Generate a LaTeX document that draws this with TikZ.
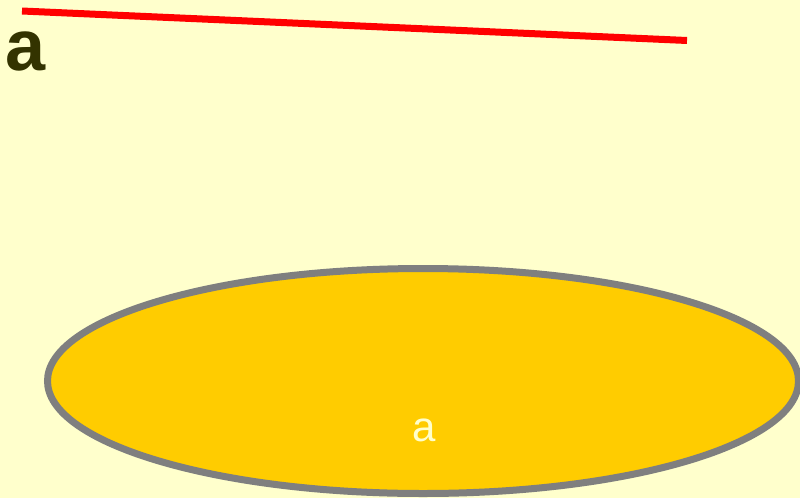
\documentclass[tikz,border=0pt]{standalone}
\usepackage{fontspec}
\setmainfont{Liberation Sans}
\usepackage{xcolor}
\usetikzlibrary{shapes.geometric,positioning}
\definecolor{paleyellow}{HTML}{FFFFCC}
\definecolor{goldfill}{HTML}{FFCC00}
\definecolor{rimgray}{HTML}{7F7F7F}
\definecolor{olivetext}{HTML}{333300}
\definecolor{lineRed}{HTML}{FF0000}

\begin{document}
\begin{tikzpicture}[x=1pt, y=-1pt,
    bigletter/.style={inner sep=0pt, text=olivetext,
      font=\fontsize{72}{80}\selectfont\bfseries},
    disc/.style={ellipse, draw=rimgray, line width=7pt, fill=goldfill,
      minimum width=751pt, minimum height=225pt, inner sep=0pt},
    disclabel/.style={inner sep=0pt, text=paleyellow,
      font=\fontsize{42}{48}\selectfont}]
  %% Background and bounding box
  \fill[paleyellow] (0,0) rectangle (800,498);
  \useasboundingbox (0,0) rectangle (800,498);

  %% Red line across the top
  \coordinate (lineStart) at (22,11);
  \coordinate (lineEnd) at (687,40.5);
  \draw[lineRed, line width=7pt] (lineStart) -- (lineEnd);

  %% Bold letter at top left
  \node[bigletter, anchor=base west] (topA) at (5,70) {a};

  %% Gold ellipse with its label
  \node[disc] (plate) at (423,381) {};
  \node[disclabel, anchor=base] (plateA) at (424,441) {a};
\end{tikzpicture}
\end{document}
